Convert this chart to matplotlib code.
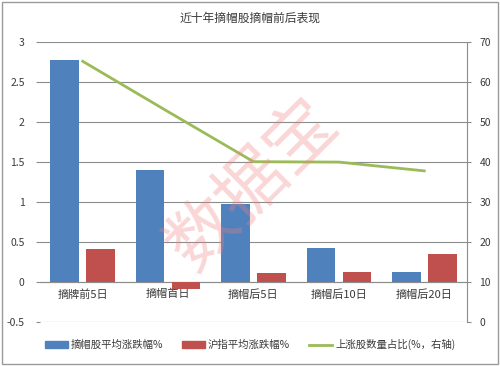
import matplotlib
matplotlib.use("Agg")
import matplotlib.pyplot as plt
import numpy as np
from matplotlib.patches import Rectangle
from matplotlib.lines import Line2D

plt.rcParams['font.family'] = ['Noto Sans CJK SC', 'DejaVu Sans']

categories = ["摘牌前5日", "摘帽首日", "摘帽后5日", "摘帽后10日", "摘帽后20日"]
stock_change = [2.78, 1.40, 0.98, 0.43, 0.13]
index_change = [0.41, -0.09, 0.115, 0.13, 0.35]
up_ratio = [65.2, 52.6, 40.1, 40.0, 37.8]
left_ticks = [-0.5, 0, 0.5, 1, 1.5, 2, 2.5, 3]
left_labels = ["-0.5", "0", "0.5", "1", "1.5", "2", "2.5", "3"]
right_ticks = [0, 10, 20, 30, 40, 50, 60, 70]

c_blue = "#4F81BD"
c_red = "#C0504D"
c_green = "#9BBB59"
grid_c = "#8C8C8C"
txt_c = "#3a3a3a"

fig = plt.figure(figsize=(5, 3.66), dpi=100)
ax = fig.add_axes([0.08, 0.12, 0.854, 0.765])
x = np.arange(len(categories))
w = 0.335
off = 0.21
ax.bar(x - off, stock_change, w, color=c_blue, zorder=3)
ax.bar(x + off, index_change, w, color=c_red, zorder=3)
ax.set_xlim(-0.5, len(categories) - 0.5)
ax.set_ylim(-0.5, 3)
ax.set_yticks(left_ticks)
ax.set_yticklabels(left_labels)
ax.yaxis.grid(True, color=grid_c, linewidth=0.8, zorder=0)
ax.set_axisbelow(True)
for s in ['top', 'left', 'right']:
    ax.spines[s].set_visible(False)
ax.spines['bottom'].set_position(('data', 0))
ax.spines['bottom'].set_color(grid_c)
ax.spines['bottom'].set_linewidth(0.8)
ax.set_xticks(x)
ax.set_xticklabels(categories)
ax.tick_params(axis='x', length=0, pad=5, labelsize=8, labelcolor=txt_c)
ax.tick_params(axis='y', length=3, color=grid_c, width=0.8, labelsize=7.5, labelcolor=txt_c, pad=8)

ax2 = ax.twinx()
ax2.plot(x, up_ratio, color=c_green, linewidth=2, zorder=4)
ax2.set_ylim(0, 70)
ax2.set_yticks(right_ticks)
for s in ['top', 'left', 'bottom']:
    ax2.spines[s].set_visible(False)
ax2.spines['right'].set_color(grid_c)
ax2.spines['right'].set_linewidth(0.8)
ax2.tick_params(axis='y', length=3, color=grid_c, width=0.8, labelsize=7.5, labelcolor=txt_c, pad=6)

fig.text(0.5, 0.951, "近十年摘帽股摘帽前后表现", ha='center', va='center', fontsize=8.5, color=txt_c)

# watermark
fig.text(0.505, 0.495, "数据宝", ha='center', va='center', fontsize=50, rotation=45,
         color='#F08080', alpha=0.32, fontweight='light', zorder=10)

handles = [Rectangle((0, 0), 1, 1, color=c_blue), Rectangle((0, 0), 1, 1, color=c_red),
           Line2D([0], [0], color=c_green, linewidth=2)]
labels = ["摘帽股平均涨跌幅%", "沪指平均涨跌幅%", "上涨股数量占比(%，右轴)"]
fig.legend(handles, labels, loc='center', bbox_to_anchor=(0.5, 0.058), ncol=3, frameon=False,
           fontsize=7.5, handlelength=2.2, handleheight=0.7, columnspacing=1.8, handletextpad=0.3,
           labelcolor=txt_c)

fig.patches.append(Rectangle((0.004, 0.005), 0.992, 0.99, transform=fig.transFigure,
                             fill=False, edgecolor='#9a9a9a', linewidth=1))

fig.savefig("out.png", dpi=100)
